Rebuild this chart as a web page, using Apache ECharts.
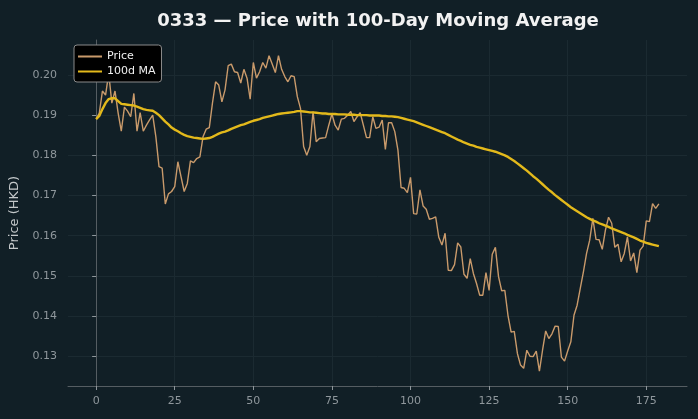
<!DOCTYPE html>
<html>
<head>
<meta charset="utf-8">
<script src="https://cdn.jsdelivr.net/npm/echarts@6/dist/echarts.min.js"></script>
<style>
  html, body { margin: 0; padding: 0; background: #111f26; }
  #chart { width: 698px; height: 419px; }
</style>
</head>
<body>
<div id="chart"></div>
<script>
// trading day index 0..179
const price = [
  0.189, 0.1905, 0.196, 0.195, 0.2004, 0.193, 0.196, 0.1905, 0.186, 0.192,
  0.191, 0.1896, 0.1954, 0.186, 0.1906, 0.186, 0.1875, 0.1888, 0.190, 0.1846,
  0.1772, 0.1768, 0.1679, 0.1704, 0.171, 0.1722, 0.1784, 0.1747, 0.171, 0.173,
  0.1786, 0.1782, 0.1792, 0.1796, 0.1846, 0.1865, 0.1869, 0.193, 0.1983, 0.1975,
  0.1933, 0.1963, 0.2023, 0.2027, 0.2008, 0.2006, 0.198, 0.2014, 0.1992, 0.194,
  0.2031, 0.1992, 0.2008, 0.2031, 0.2017, 0.2048, 0.2027, 0.2006, 0.2048, 0.2014,
  0.1996, 0.1983, 0.1998, 0.1996, 0.1946, 0.1917, 0.1822, 0.180, 0.1822, 0.1909,
  0.1834, 0.1842, 0.1843, 0.1844, 0.1875, 0.1903, 0.1875, 0.1863, 0.189, 0.1892,
  0.190, 0.1909, 0.1884, 0.1896, 0.1906, 0.1875, 0.1844, 0.1844, 0.1896, 0.1867,
  0.187, 0.1888, 0.1815, 0.1881, 0.1881, 0.1859, 0.1813, 0.172, 0.1718, 0.1707,
  0.1745, 0.1655, 0.1654, 0.1714, 0.1674, 0.1666, 0.1641, 0.1643, 0.1647, 0.1596,
  0.1577, 0.1606, 0.1514, 0.1513, 0.1528, 0.1582, 0.1572, 0.1504, 0.1494, 0.1543,
  0.1506, 0.1481, 0.1452, 0.1452, 0.1508, 0.1464, 0.1554, 0.1571, 0.1498, 0.1463,
  0.1464, 0.1402, 0.136, 0.1362, 0.1307, 0.1278, 0.127, 0.1315, 0.130, 0.1299,
  0.1313, 0.1263, 0.1315, 0.1363, 0.1344, 0.1356, 0.1375, 0.1374, 0.1298, 0.1288,
  0.1313, 0.1336, 0.1402, 0.1427, 0.1469, 0.151, 0.1556, 0.1589, 0.1643, 0.1591,
  0.159, 0.1566, 0.1614, 0.1646, 0.1631, 0.1571, 0.1579, 0.1535, 0.1556, 0.1597,
  0.1537, 0.1557, 0.1508, 0.1564, 0.1574, 0.1637, 0.1635, 0.168, 0.1668, 0.1679
];

const ma100 = [
  0.1890, 0.1898, 0.1915, 0.1930, 0.1940, 0.1942, 0.1942, 0.1935, 0.1928, 0.1927,
  0.1926, 0.1925, 0.1924, 0.1921, 0.1918, 0.1915, 0.1913, 0.1912, 0.1911, 0.1906,
  0.1900, 0.1892, 0.1884, 0.1877, 0.1869, 0.1864, 0.1860, 0.1855, 0.1851, 0.1848,
  0.1846, 0.1844, 0.1843, 0.1842, 0.1841, 0.1842, 0.1843, 0.1846, 0.1850, 0.1854,
  0.1857, 0.1859, 0.1862, 0.1866, 0.1869, 0.1872, 0.1875, 0.1877, 0.1880, 0.1883,
  0.1886, 0.1888, 0.1890, 0.1893, 0.1895, 0.1897, 0.1899, 0.1901, 0.1903, 0.1904,
  0.1905, 0.1906, 0.1907, 0.1908, 0.1910, 0.1910, 0.1909, 0.1908, 0.1907, 0.1907,
  0.1906, 0.1905, 0.1904, 0.1904, 0.1903, 0.1903, 0.1903, 0.1902, 0.1902, 0.1902,
  0.1901, 0.1901, 0.1901, 0.1900, 0.1900, 0.1900, 0.1900, 0.1899, 0.1899, 0.1899,
  0.1899, 0.1898, 0.1898, 0.1897, 0.1897, 0.1896, 0.1895, 0.1893, 0.1891, 0.1889,
  0.1887, 0.1885, 0.1882, 0.1879, 0.1876, 0.1873, 0.1870, 0.1867, 0.1864, 0.1861,
  0.1858, 0.1855, 0.1851, 0.1847, 0.1843, 0.1839, 0.1836, 0.1832, 0.1829, 0.1826,
  0.1824, 0.1821, 0.1819, 0.1817, 0.1815, 0.1813, 0.1811, 0.1809, 0.1806, 0.1803,
  0.1800, 0.1796, 0.1791, 0.1786, 0.1780, 0.1774, 0.1768, 0.1762, 0.1755, 0.1748,
  0.1742, 0.1735, 0.1728, 0.1721, 0.1714, 0.1708, 0.1701, 0.1695, 0.1689, 0.1683,
  0.1677, 0.1671, 0.1666, 0.1661, 0.1656, 0.1651, 0.1646, 0.1642, 0.1638, 0.1635,
  0.1631, 0.1628, 0.1625, 0.1622, 0.1618, 0.1615, 0.1612, 0.1609, 0.1606, 0.1602,
  0.1599, 0.1596, 0.1592, 0.1588, 0.1585, 0.1582, 0.1580, 0.1578, 0.1576, 0.1574
];

const xTicks = [0, 25, 50, 75, 100, 125, 150, 175];
const yTicks = [0.13, 0.14, 0.15, 0.16, 0.17, 0.18, 0.19, 0.20];

const chart = echarts.init(document.getElementById('chart'));
const font = 'DejaVu Sans';
const axisCol = '#555d62';
const labelCol = '#8f979c';
const gridCol = '#1b2a31';

chart.setOption({
  backgroundColor: '#111f26',
  animation: false,
  title: {
    text: '0333 — Price with 100-Day Moving Average',
    left: 373,
    textAlign: 'center',
    top: 7,
    textStyle: { color: '#f2f2f2', fontFamily: font, fontSize: 18, fontWeight: 'bold' }
  },
  legend: {
    orient: 'vertical',
    left: 74,
    top: 45,
    padding: [6, 6, 5, 4],
    itemGap: 4,
    itemWidth: 24,
    itemHeight: 2,
    backgroundColor: '#000000',
    borderColor: '#8a8a8a',
    borderWidth: 1,
    borderRadius: 3,
    textStyle: { color: '#f0f0f0', fontFamily: font, fontSize: 11 },
    data: [
      { name: 'Price', icon: 'rect' },
      { name: '100d MA', icon: 'rect' }
    ]
  },
  grid: { left: 68, right: 11, top: 40, bottom: 33 },
  xAxis: {
    type: 'value',
    min: -8.95,
    max: 187.95,
    axisLine: { show: true, lineStyle: { color: axisCol } },
    axisTick: { show: true, customValues: xTicks, length: 4, lineStyle: { color: labelCol } },
    axisLabel: { customValues: xTicks, color: labelCol, fontFamily: font, fontSize: 11, margin: 10 },
    splitLine: { show: true, lineStyle: { color: gridCol, width: 1 } }
  },
  yAxis: {
    type: 'value',
    min: 0.1226,
    max: 0.2087,
    name: 'Price (HKD)',
    nameLocation: 'middle',
    nameGap: 45,
    nameTextStyle: { color: '#c4c8ca', fontFamily: font, fontSize: 13 },
    axisLine: { show: true, lineStyle: { color: axisCol } },
    axisTick: { show: true, customValues: yTicks, length: 4, lineStyle: { color: labelCol } },
    axisLabel: {
      customValues: yTicks,
      color: labelCol, fontFamily: font, fontSize: 11, margin: 11,
      formatter: v => v.toFixed(2)
    },
    splitLine: { show: true, lineStyle: { color: gridCol, width: 1 } }
  },
  series: [
    {
      name: 'Price',
      type: 'line',
      data: price.map((v, i) => [i, v]),
      showSymbol: false,
      itemStyle: { color: '#c99a6b' },
      lineStyle: { color: '#c99a6b', width: 1.4 },
      z: 2
    },
    {
      name: '100d MA',
      type: 'line',
      data: ma100.map((v, i) => [i, v]),
      showSymbol: false,
      itemStyle: { color: '#e3b91b' },
      lineStyle: { color: '#e3b91b', width: 2.4 },
      z: 3
    }
  ]
});
</script>
</body>
</html>
